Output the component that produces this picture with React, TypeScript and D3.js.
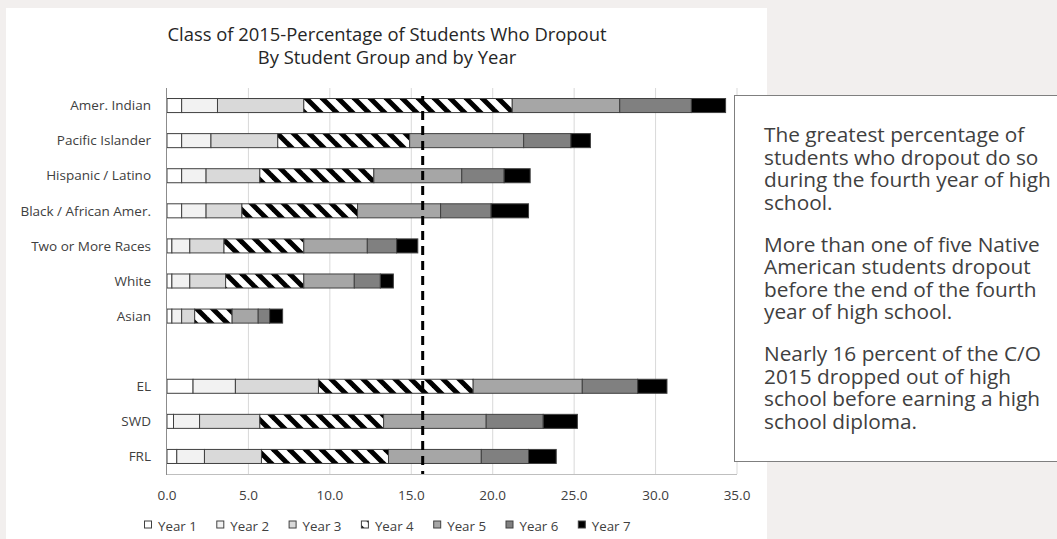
import React from "react";
import * as d3 from "d3";

const categories = [
  "Amer. Indian",
  "Pacific Islander",
  "Hispanic / Latino",
  "Black / African Amer.",
  "Two or More Races",
  "White",
  "Asian",
  "",
  "EL",
  "SWD",
  "FRL",
];
const seriesNames = ["Year 1", "Year 2", "Year 3", "Year 4", "Year 5", "Year 6", "Year 7"];
const year1 = [0.9, 0.9, 0.9, 0.9, 0.3, 0.3, 0.3, null, 1.6, 0.4, 0.6];
const year2 = [2.2, 1.8, 1.5, 1.5, 1.1, 1.1, 0.6, null, 2.6, 1.6, 1.7];
const year3 = [5.3, 4.1, 3.3, 2.2, 2.1, 2.2, 0.8, null, 5.1, 3.7, 3.5];
const year4 = [12.8, 8.1, 7.0, 7.1, 4.9, 4.8, 2.3, null, 9.5, 7.6, 7.8];
const year5 = [6.6, 7.0, 5.4, 5.1, 3.9, 3.1, 1.6, null, 6.7, 6.3, 5.7];
const year6 = [4.4, 2.9, 2.6, 3.1, 1.8, 1.6, 0.7, null, 3.4, 3.5, 2.9];
const year7 = [2.1, 1.2, 1.6, 2.3, 1.3, 0.8, 0.8, null, 1.8, 2.1, 1.7];
const xTicks = [0, 5, 10, 15, 20, 25, 30, 35];
const dropoutRate = 15.7;
const titleLines = ["Class of 2015-Percentage of Students Who Dropout", "By Student Group and by Year"];
const notes = [
  ["The greatest percentage of", "students who dropout do so", "during the fourth year of high", "school."],
  ["More than one of five Native", "American students dropout", "before the end of the fourth", "year of high school."],
  ["Nearly 16 percent of the C/O", "2015 dropped out of high", "school before earning a high", "school diploma."],
];

const fills = ["#ffffff", "#f2f2f2", "#d9d9d9", "url(#hatch)", "#a6a6a6", "#808080", "#000000"];
const FONT = "'Open Sans', sans-serif";

export default function App() {
  const W = 1057;
  const H = 539;
  const x = d3.scaleLinear().domain([0, 35]).range([167, 737]);
  const y = d3.scaleBand<string>().domain(categories).range([88, 474]).paddingInner(0.6).paddingOuter(0.3);
  const all = [year1, year2, year3, year4, year5, year6, year7];
  const rows = categories.map((c, i) => {
    const r: any = { cat: c, blank: year1[i] == null };
    seriesNames.forEach((s, k) => (r[s] = all[k][i] ?? 0));
    return r;
  });
  const stacked = d3.stack<any>().keys(seriesNames)(rows);

  const legendStart = 144;
  const legendStep = 72.3;

  return (
    <svg width={W} height={H} style={{ position: "absolute", left: 0, top: 0, display: "block" }} fontFamily={FONT}>
      <defs>
        <pattern id="hatch" patternUnits="userSpaceOnUse" width={16} height={16}>
          <rect width={16} height={16} fill="#ffffff" />
          <polygon points="0,0 3.5,0 16,12.5 16,16 12.5,16 0,3.5" fill="#000" />
          <polygon points="12.5,0 16,0 16,3.5" fill="#000" />
          <polygon points="0,12.5 0,16 3.5,16" fill="#000" />
        </pattern>
      </defs>
      <rect width={W} height={H} fill="#f2efee" />
      <rect x={6} y={8} width={761} height={H} fill="#ffffff" />

      {titleLines.map((t, i) => (
        <text key={t} x={387} y={40.5 + i * 23} textAnchor="middle" fontSize={18.4} fill="#262626">
          {t}
        </text>
      ))}

      {xTicks.slice(1).map((t) => (
        <line key={t} x1={x(t)} x2={x(t)} y1={88} y2={474} stroke="#d9d9d9" strokeWidth={1} />
      ))}

      {stacked.map((layer, k) =>
        layer.map((d, i) =>
          rows[i].blank ? null : (
            <rect
              key={`${k}-${i}`}
              x={x(d[0])}
              y={y(categories[i])!}
              width={x(d[1]) - x(d[0])}
              height={y.bandwidth()}
              fill={fills[k]}
              stroke="#404040"
              strokeWidth={1}
            />
          )
        )
      )}

      <line x1={x(0)} x2={x(35)} y1={474.5} y2={474.5} stroke="#bfbfbf" strokeWidth={1} />
      <line x1={x(0) - 0.5} x2={x(0) - 0.5} y1={88} y2={475} stroke="#8c8c8c" strokeWidth={1} />

      {categories.map((c) =>
        c ? (
          <text
            key={c}
            x={151}
            y={y(c)! + y.bandwidth() / 2}
            dy="0.35em"
            textAnchor="end"
            fontSize={13.5}
            fill="#404040"
          >
            {c}
          </text>
        ) : null
      )}

      {xTicks.map((t) => (
        <text key={t} x={x(t)} y={500} textAnchor="middle" fontSize={13.5} fill="#404040">
          {d3.format(".1f")(t)}
        </text>
      ))}

      <line
        x1={x(dropoutRate)}
        x2={x(dropoutRate)}
        y1={96}
        y2={474}
        stroke="#000"
        strokeWidth={3}
        strokeDasharray="9 6"
      />

      {seriesNames.map((s, k) => (
        <g key={s} transform={`translate(${legendStart + k * legendStep},0)`}>
          <rect x={0.5} y={521} width={7} height={7} fill={fills[k]} stroke="#404040" strokeWidth={1} />
          <text x={14} y={531} fontSize={13.3} fill="#404040">
            {s}
          </text>
        </g>
      ))}

      <rect x={734.5} y={95.5} width={340} height={366} fill="#ffffff" stroke="#7f7f7f" strokeWidth={1} />
      {notes.map((para, p) =>
        para.map((line, l) => (
          <text key={`${p}-${l}`} x={764} y={142 + p * 109.5 + l * 22.6} fontSize={20.8} fill="#404040">
            {line}
          </text>
        ))
      )}
    </svg>
  );
}
